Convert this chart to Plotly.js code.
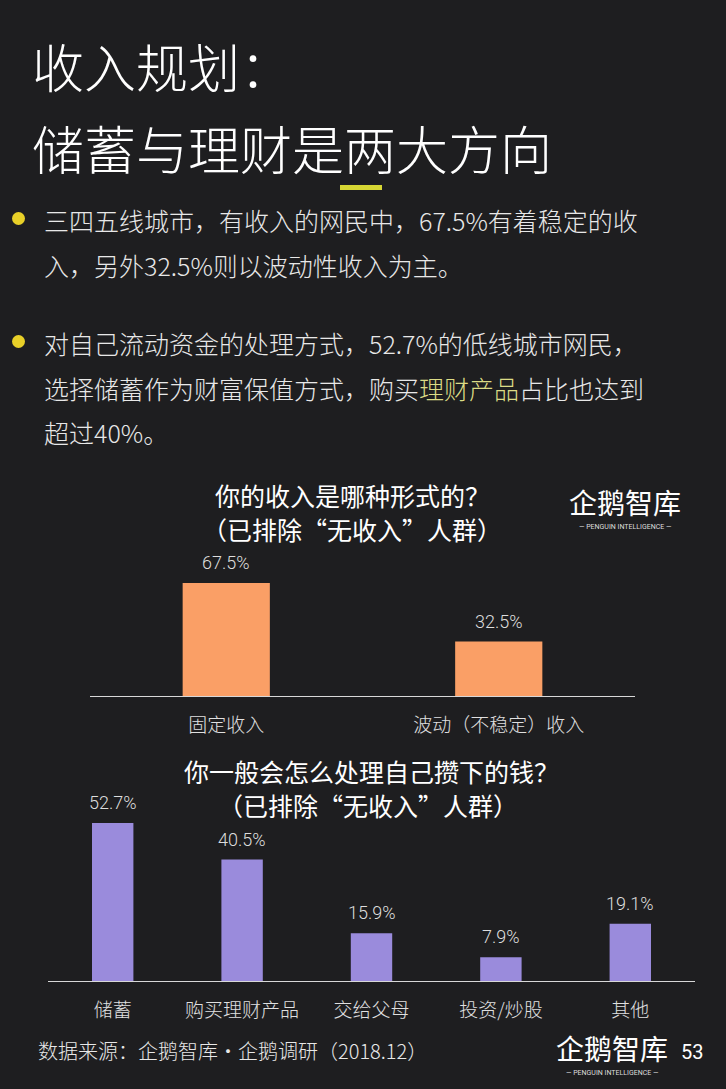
<!DOCTYPE html>
<html>
<head>
<meta charset="utf-8">
<script src="https://cdn.plot.ly/plotly-3.0.1.min.js"></script>
<style>
  html, body { margin: 0; padding: 0; background: #1e1e20; }
  #page { width: 726px; height: 1089px; }
</style>
</head>
<body>
<div id="page"></div>
<script>
// data: income type (chart 1)
var incomeCats = ['固定收入', '波动（不稳定）收入'];
var incomeVals = [67.5, 32.5];

// data: what to do with savings (chart 2)
var savingCats = ['储蓄', '购买理财产品', '交给父母', '投资/炒股', '其他'];
var savingVals = [52.7, 40.5, 15.9, 7.9, 19.1];

var W = 726, H = 1089;
var CJK = '"Noto Sans CJK SC", "Noto Sans", sans-serif';
var txt = '#e8e8e8';

// pixel -> paper helpers
function px(x) { return x / W; }
function py(y) { return 1 - y / H; }

var bar1 = {
  type: 'bar', x: incomeCats, y: incomeVals,
  xaxis: 'x', yaxis: 'y',
  marker: { color: '#fa9f66' },
  hoverinfo: 'skip'
};
var bar2 = {
  type: 'bar', x: savingCats, y: savingVals,
  xaxis: 'x2', yaxis: 'y2',
  marker: { color: '#9a8bdc' },
  hoverinfo: 'skip'
};

var annotations = [];
function addText(x, y, text, size, opts) {
  opts = opts || {};
  annotations.push({
    xref: 'paper', yref: 'paper', x: px(x), y: py(y),
    xanchor: opts.anchor || 'left', yanchor: 'middle',
    text: text, showarrow: false,
    font: { family: opts.family || CJK, size: size, color: opts.color || txt, weight: opts.weight || 'normal' }
  });
}

// page title
addText(30, 66, '收入规划：', 52, { color: '#ffffff', weight: 300 });
addText(30, 148, '储蓄与理财是两大方向', 52, { color: '#ffffff', weight: 300 });

// bullets
addText(42, 220, '三四五线城市，有收入的网民中，67.5%有着稳定的收', 25, { weight: 300 });
addText(42, 265, '入，另外32.5%则以波动性收入为主。', 25, { weight: 300 });
addText(42, 343, '对自己流动资金的处理方式，52.7%的低线城市网民，', 25, { weight: 300 });
addText(42, 388, '选择储蓄作为财富保值方式，购买<span style="color:#dcdc86">理财产品</span>占比也达到', 25, { weight: 300 });
addText(42, 432, '超过40%。', 25, { weight: 300 });

// chart titles
addText(352, 495, '你的收入是哪种形式的？', 25, { anchor: 'center', color: '#ffffff' });
addText(352, 529, '（已排除“无收入”人群）', 25, { anchor: 'center', color: '#ffffff' });
addText(371, 771, '你一般会怎么处理自己攒下的钱？', 25, { anchor: 'center', color: '#ffffff' });
addText(368, 805, '（已排除“无收入”人群）', 25, { anchor: 'center', color: '#ffffff' });

// logos
addText(625, 502, '企鹅智库', 28, { anchor: 'center', color: '#ffffff' });
addText(625, 527, '— PENGUIN INTELLIGENCE —', 7, { anchor: 'center', color: '#dddddd', family: 'Roboto, sans-serif' });
addText(612, 1048, '企鹅智库', 28, { anchor: 'center', color: '#ffffff' });
addText(612, 1073, '— PENGUIN INTELLIGENCE —', 7, { anchor: 'center', color: '#dddddd', family: 'Roboto, sans-serif' });

// source + page number
addText(36, 1050, '数据来源：企鹅智库·企鹅调研（2018.12）', 20, { weight: 300 });
addText(692, 1052, '53', 20, { anchor: 'center', color: '#ffffff', family: 'Roboto, sans-serif' });

// value labels above bars
incomeCats.forEach(function (c, i) {
  annotations.push({
    xref: 'x', yref: 'y', x: c, y: incomeVals[i], yanchor: 'bottom', yshift: 8,
    text: incomeVals[i].toFixed(1) + '%', showarrow: false,
    font: { family: 'Roboto, sans-serif', size: 18, color: '#dddddd', weight: 300 }
  });
});
savingCats.forEach(function (c, i) {
  annotations.push({
    xref: 'x2', yref: 'y2', x: c, y: savingVals[i], yanchor: 'bottom', yshift: 8,
    text: savingVals[i].toFixed(1) + '%', showarrow: false,
    font: { family: 'Roboto, sans-serif', size: 18, color: '#dddddd', weight: 300 }
  });
});

var shapes = [
  // yellow underline under title
  { type: 'rect', xref: 'paper', yref: 'paper', x0: px(340), x1: px(382), y0: py(190), y1: py(185),
    fillcolor: '#d6d634', line: { width: 0 } },
  // bullet dots
  { type: 'circle', xref: 'paper', yref: 'paper', x0: px(12), x1: px(25), y0: py(225), y1: py(212),
    fillcolor: '#e8d028', line: { width: 0 } },
  { type: 'circle', xref: 'paper', yref: 'paper', x0: px(12), x1: px(25), y0: py(348), y1: py(335),
    fillcolor: '#e8d028', line: { width: 0 } }
];

var axisX = {
  showline: true, linecolor: '#d8d8d8', linewidth: 1,
  showgrid: false, zeroline: false, ticks: '', fixedrange: true,
  tickfont: { family: CJK, size: 19, color: '#e0e0e0', weight: 300 },
  ticklabelstandoff: 12
};
var axisY = { visible: false, showgrid: false, zeroline: false, fixedrange: true };

var layout = {
  width: W, height: H,
  margin: { l: 0, r: 0, t: 0, b: 0 },
  paper_bgcolor: '#1e1e20', plot_bgcolor: 'rgba(0,0,0,0)',
  showlegend: false,
  bargap: 0.68,
  xaxis: Object.assign({}, axisX, { domain: [px(90), px(635)], anchor: 'y' }),
  yaxis: Object.assign({}, axisY, { domain: [py(696), py(562)], range: [0, 80], anchor: 'x' }),
  xaxis2: Object.assign({}, axisX, { domain: [px(48), px(695)], anchor: 'y2' }),
  yaxis2: Object.assign({}, axisY, { domain: [py(981), py(801)], range: [0, 60], anchor: 'x2' }),
  annotations: annotations,
  shapes: shapes
};

Plotly.newPlot('page', [bar1, bar2], layout, { displayModeBar: false, staticPlot: true });
</script>
</body>
</html>
